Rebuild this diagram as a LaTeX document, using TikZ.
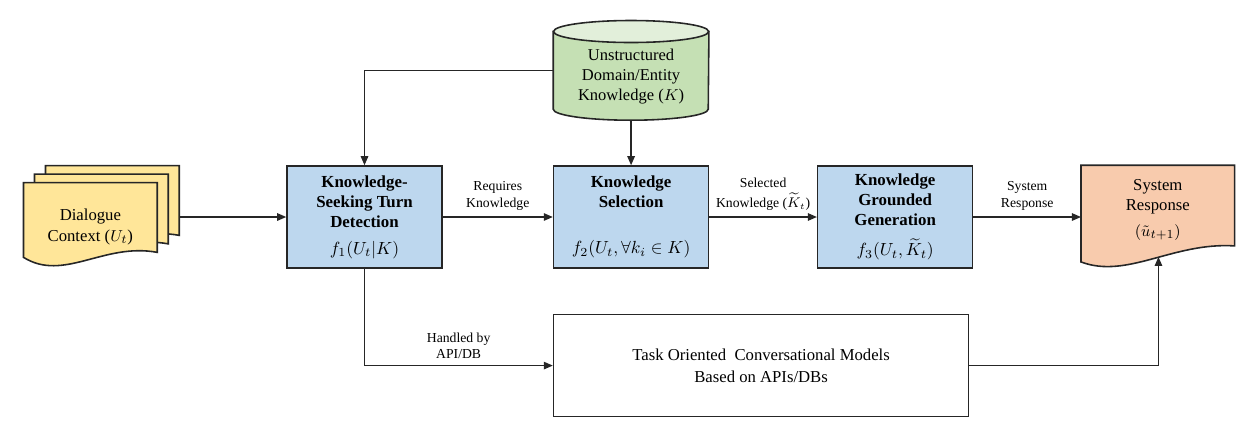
\documentclass[tikz,border=0pt]{standalone}
\usepackage{fontspec}
\setmainfont{Liberation Serif}
\usetikzlibrary{arrows.meta, positioning, calc, backgrounds}

\definecolor{boxblue}{HTML}{BDD7EE}
\definecolor{dbgreen}{HTML}{C5E0B4}
\definecolor{dbtop}{HTML}{E2EFDA}
\definecolor{docyellow}{HTML}{FFE699}
\definecolor{docorange}{HTML}{F8CBAD}
\definecolor{edgegray}{HTML}{262626}

% document shape drawn behind a node: node, fill, right rise, upper and lower control
\newcommand{\docshape}[5]{%
  \draw[line width=0.9pt, draw=edgegray, fill=#2] (#1.north west) -- (#1.north east)
    -- ([yshift=#3]#1.south east)
    .. controls ($(#1.south west)!0.6!(#1.south east)+(0,#4)$)
    and ($(#1.south west)!0.3!(#1.south east)+(0,#5)$) .. (#1.south west) -- cycle;}

\begin{document}
\begin{tikzpicture}[
  stage/.style={rectangle, draw=edgegray, line width=0.9pt, fill=boxblue,
                minimum width=3.1cm, minimum height=2.04cm, align=center,
                font=\fontsize{9.6}{11.4}\selectfont},
  plain/.style={rectangle, draw=edgegray, line width=0.9pt,
                minimum width=8.3cm, minimum height=2.04cm, align=center,
                font=\fontsize{9.5}{12.5}\selectfont},
  docnode/.style={rectangle, inner sep=0pt, align=center,
                  font=\fontsize{9.5}{12}\selectfont},
  flow/.style={-{Triangle[length=1.8mm, width=1.5mm]}, line width=0.7pt, draw=edgegray},
  tag/.style={align=center, font=\fontsize{7.8}{9.5}\selectfont}
]
  \useasboundingbox (0,0) rectangle (25.12,-8.8);

  \node[stage] (kstd) at (7.29,-4.34) {\textbf{Knowledge-}\\\textbf{Seeking Turn}\\\textbf{Detection}\\[4pt]$f_1(U_t|K)$};
  \node[stage, right=2.2cm of kstd] (ks) {\textbf{Knowledge}\\\textbf{Selection}\\[15pt]$f_2(U_t, \forall k_i \in K)$};
  \node[stage, right=2.15cm of ks] (kgg) {\textbf{Knowledge}\\\textbf{Grounded}\\\textbf{Generation}\\[6pt]$f_3(U_t, \widetilde{K}_t)$};
  \node[docnode, minimum width=3.06cm, minimum height=1.92cm,
        right=2.15cm of kgg.north east, anchor=north west,
        font=\fontsize{9.5}{11.4}\selectfont,
        label={[docnode, font=\fontsize{9.5}{11.4}\selectfont, yshift=0.07cm]center:System\\Response\\[3pt]$(\tilde{u}_{t+1})$}] (sr) {};
  \node[docnode, minimum width=3.1cm, minimum height=1.98cm, above=0.9cm of ks,
        font=\fontsize{9.4}{11.4}\selectfont] (know) {\\[2pt]Unstructured\\Domain/Entity\\Knowledge ($K$)};
  \node[plain, below=0.9cm of ks.south west, anchor=north west] (tocm) {Task Oriented\ \ Conversational Models\\Based on APIs/DBs};

  % stacked dialogue pages
  \node[docnode, minimum width=2.66cm, minimum height=1.48cm,
        left=2.58cm of kstd, yshift=-0.06cm,
        label={[docnode, yshift=-0.14cm]center:Dialogue\\Context ($U_t$)}] (dlg) {};
  \node[docnode, minimum width=2.66cm, minimum height=1.48cm] (dlgmid) at ([shift={(0.22,0.17)}]dlg.center) {};
  \node[docnode, minimum width=2.66cm, minimum height=1.48cm] (dlgback) at ([shift={(0.44,0.34)}]dlg.center) {};

  \begin{scope}[on background layer]
    \docshape{dlgback}{docyellow}{1mm}{3mm}{-5mm}
    \docshape{dlgmid}{docyellow}{1mm}{3mm}{-5mm}
    \docshape{dlg}{docyellow}{1mm}{3mm}{-5mm}
    \docshape{sr}{docorange}{3.2mm}{4mm}{-3.5mm}
    % knowledge store
    \draw[line width=0.9pt, draw=edgegray, fill=dbgreen] ([yshift=-2.2mm]know.north west)
      -- ([yshift=2.2mm]know.south west)
      arc[start angle=180, end angle=360, x radius=1.55cm, y radius=2.2mm]
      -- ([yshift=-2.2mm]know.north east) -- cycle;
    \draw[line width=0.9pt, draw=edgegray, fill=dbtop] ([yshift=-2.2mm]know.north)
      ellipse[x radius=1.55cm, y radius=2.2mm];
  \end{scope}
  \coordinate (srwave) at ([shift={(1.55,0.1)}]sr.south west);

  \draw[flow] (dlgback.east |- kstd.west) -- (kstd.west);
  \draw[flow] (know.west) -| (kstd.north);
  \draw[flow] (know.south) -- (ks.north);
  \draw[flow] (kstd) -- node[tag, above]{Requires\\Knowledge} (ks);
  \draw[flow] (ks) -- node[tag, above]{Selected\\[2pt]Knowledge ($\widetilde{K}_t$)} (kgg);
  \draw[flow] (kgg) -- node[tag, above]{System\\Response} (kgg -| sr.west);
  \draw[flow] (kstd.south) |- node[tag, above, pos=0.75]{Handled by\\API/DB} (tocm.west);
  \draw[flow] (tocm.east) -| (srwave);
\end{tikzpicture}
\end{document}
